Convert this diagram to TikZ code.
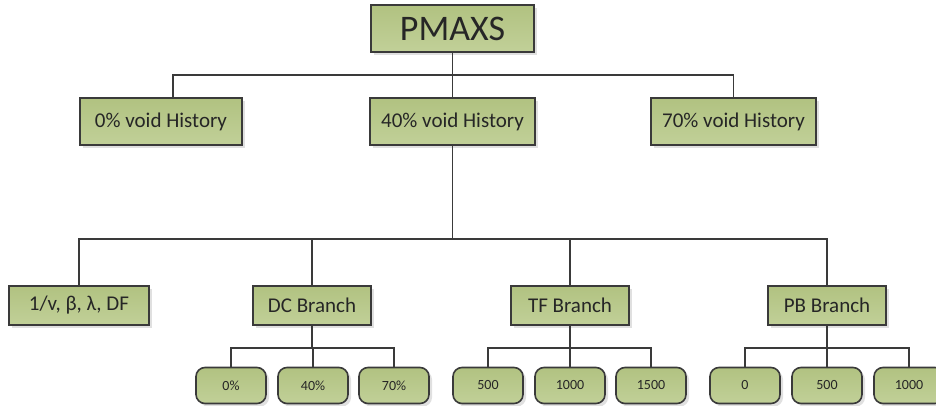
\documentclass[tikz,border=0pt]{standalone}
\usepackage{fontspec}
\setmainfont{Carlito}
\usetikzlibrary{shadows}
\definecolor{ink}{HTML}{3A3A3A}
\definecolor{moss}{HTML}{C1D098}
\definecolor{mossdark}{HTML}{B1C281}

\begin{document}
\begin{tikzpicture}[x=1pt,y=1pt,
  box/.style={draw=ink,line width=1.6pt,top color=mossdark,bottom color=moss,
    inner sep=0pt,minimum height=47pt,font=\fontsize{21}{24}\selectfont,text=black!85,
    drop shadow={shadow xshift=3pt,shadow yshift=-3pt,fill=black!20,opacity=0.6}},
  branch/.style={box,minimum width=118pt,minimum height=39pt},
  leaf/.style={box,rounded corners=9pt,minimum width=70pt,minimum height=36pt,
    font=\fontsize{14}{16}\selectfont},
  link/.style={draw=ink,line width=1.8pt}]
  \useasboundingbox (0,0) rectangle (936,-406);

  \node[box,minimum width=163pt,font=\fontsize{36}{40}\selectfont] (root) at (452.5,-28.5) {PMAXS};
  \node[box,minimum width=162pt] (v0) at (161,-121.5) {0\% void History};
  \node[box,minimum width=165pt] (v40) at (452.5,-121.5) {40\% void History};
  \node[box,minimum width=165pt] (v70) at (733.5,-121.5) {70\% void History};

  \node[branch,minimum width=140pt] (kin) at (79,-305.5) {1/v, β, λ, DF};
  \node[branch] (dc) at (312,-305.5) {DC Branch};
  \node[branch] (tf) at (570,-305.5) {TF Branch};
  \node[branch] (pb) at (827,-305.5) {PB Branch};

  \node[leaf] (dc0) at (231,-385.5) {0\%};
  \node[leaf] (dc40) at (313,-385.5) {40\%};
  \node[leaf] (dc70) at (394,-385.5) {70\%};
  \node[leaf] (tf500) at (488,-385.5) {500};
  \node[leaf] (tf1000) at (570,-385.5) {1000};
  \node[leaf] (tf1500) at (651,-385.5) {1500};
  \node[leaf] (pb0) at (745,-385.5) {0};
  \node[leaf] (pb500) at (827,-385.5) {500};
  \node[leaf] (pb1000) at (909,-385.5) {1000};

  \coordinate (bar1) at (0,-75);
  \coordinate (bar2) at (0,-239);
  \coordinate (bar3) at (0,-348);
  \coordinate (v0top) at ([xshift=12pt]v0.north);

  \foreach \k in {v0top,v40,v70}
    \draw[link] (root.south) -- (root.south |- bar1) -| (\k);
  \foreach \k in {kin,dc,tf,pb}
    \draw[link] (v40.south) -- (v40.south |- bar2) -| (\k.north);
  \foreach \p/\k in {dc/dc0,dc/dc40,dc/dc70,tf/tf500,tf/tf1000,tf/tf1500,pb/pb0,pb/pb500,pb/pb1000}
    \draw[link] (\p.south) -- (\p.south |- bar3) -| (\k.north);
\end{tikzpicture}
\end{document}
